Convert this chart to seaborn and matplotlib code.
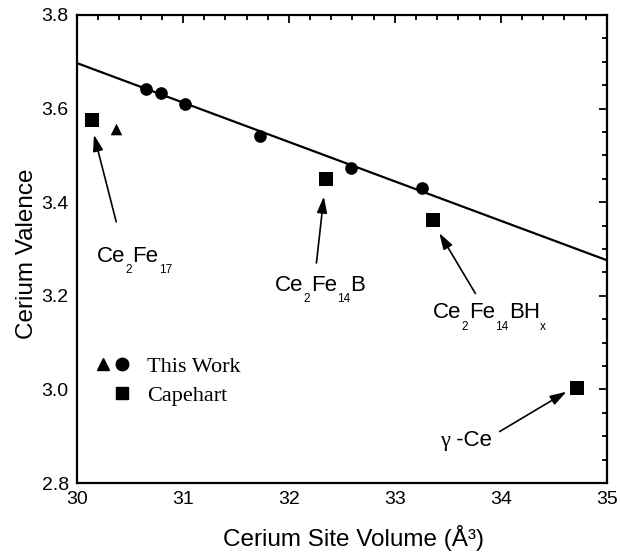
import matplotlib
matplotlib.use("Agg")
import matplotlib.pyplot as plt
import seaborn as sns
from matplotlib.lines import Line2D
from matplotlib.legend_handler import HandlerTuple
from matplotlib.ticker import MultipleLocator, FormatStrFormatter
from matplotlib.textpath import TextToPath
from matplotlib.font_manager import FontProperties

# ---- data ----
circle_x = [30.65, 30.79, 31.02, 31.73, 32.59, 33.26]
circle_y = [3.642, 3.633, 3.609, 3.541, 3.474, 3.431]
triangle_x = [30.37]
triangle_y = [3.556]
capehart_x = [30.14, 32.35, 33.36, 34.72]
capehart_y = [3.576, 3.449, 3.362, 3.004]
fit_x = [30.0, 35.0]
fit_y = [3.697, 3.276]

# compound labels: (text, kind) pieces; kind 1 = subscript, 2 = greek
compound_labels = [
    [("Ce", 0), ("2", 1), ("Fe", 0), ("17", 1)],
    [("Ce", 0), ("2", 1), ("Fe", 0), ("14", 1), ("B", 0)],
    [("Ce", 0), ("2", 1), ("Fe", 0), ("14", 1), ("BH", 0), ("x", 1)],
    [("γ", 2), (" -Ce", 0)],
]
label_x = [30.186, 31.868, 33.361, 33.425]
label_y = [3.273, 3.211, 3.152, 2.878]
arrow_tail_x = [30.37, 32.26, 33.76, 33.99]
arrow_tail_y = [3.358, 3.27, 3.205, 2.910]
arrow_head_x = [30.16, 32.33, 33.42, 34.62]
arrow_head_y = [3.544, 3.412, 3.334, 2.995]

x_ticks = [30, 31, 32, 33, 34, 35]
y_ticks = [2.8, 3.0, 3.2, 3.4, 3.6, 3.8]

sns.set_style("white")
plt.rcParams["font.family"] = ["Liberation Sans", "DejaVu Sans"]
for k in ["text.color", "axes.labelcolor", "xtick.color", "ytick.color",
          "axes.edgecolor"]:
    plt.rcParams[k] = "black"

fig = plt.figure(figsize=(6.21, 5.52), dpi=100)
ax = fig.add_axes([0.124, 0.125, 0.853, 0.848])

sns.lineplot(x=fit_x, y=fit_y, color="black", lw=1.6, ax=ax)
sns.scatterplot(x=circle_x, y=circle_y, marker="o", s=83, color="black",
                linewidth=0, ax=ax, zorder=3)
sns.scatterplot(x=triangle_x, y=triangle_y, marker="^", s=70, color="black",
                linewidth=0, ax=ax, zorder=3)
sns.scatterplot(x=capehart_x, y=capehart_y, marker="s", s=88, color="black",
                linewidth=0, ax=ax, zorder=3)

ttp = TextToPath()
MAIN_SIZE, SUB_SIZE, SUB_DROP, GAP = 16.0, 8.5, 8.5, 0.3


def draw_formula(x, y, pieces):
    cursor = 0.0
    for txt, kind in pieces:
        if kind == 1:
            fam, size, dy = "Liberation Sans", SUB_SIZE, -SUB_DROP
        elif kind == 2:
            fam, size, dy = "Liberation Serif", MAIN_SIZE, 0
        else:
            fam, size, dy = "Liberation Sans", MAIN_SIZE, 0
        prop = FontProperties(family=fam, size=size)
        w, h, d = ttp.get_text_width_height_descent(txt, prop, ismath=False)
        ax.annotate(txt, xy=(x, y), xytext=(cursor, dy),
                    textcoords="offset points", ha="left", va="baseline",
                    fontproperties=prop, color="black")
        cursor += w + GAP


for pieces, lx, ly, tx, ty, hx, hy in zip(compound_labels, label_x, label_y,
                                          arrow_tail_x, arrow_tail_y,
                                          arrow_head_x, arrow_head_y):
    draw_formula(lx, ly, pieces)
    ax.annotate("", xy=(hx, hy), xytext=(tx, ty),
                arrowprops=dict(arrowstyle="-|>,head_length=0.7,head_width=0.22",
                                color="black", lw=1.2, shrinkA=0, shrinkB=0,
                                mutation_scale=14))

ax.set_xlim(30, 35)
ax.set_ylim(2.8, 3.8)
ax.set_xticks(x_ticks)
ax.set_yticks(y_ticks)
ax.xaxis.set_minor_locator(MultipleLocator(0.2))
ax.yaxis.set_minor_locator(MultipleLocator(0.05))
ax.yaxis.set_major_formatter(FormatStrFormatter("%.1f"))
ax.tick_params(which="both", direction="in", top=True, right=True,
               labelsize=14, width=1.3, colors="black")
ax.tick_params(which="major", length=6, pad=6)
ax.tick_params(which="minor", length=3.5)
for s in ax.spines.values():
    s.set_linewidth(1.6)
    s.set_color("black")

ax.set_xlabel("Cerium Site Volume (Å³)", fontsize=17.5, color="black")
ax.set_ylabel("Cerium Valence", fontsize=17.5, color="black")
ax.xaxis.set_label_coords(0.522, -0.09)
ax.yaxis.set_label_coords(-0.074, 0.489)

h_tri = Line2D([], [], marker="^", color="black", linestyle="none", markersize=8.5)
h_cir = Line2D([], [], marker="o", color="black", linestyle="none", markersize=9)
h_sq = Line2D([], [], marker="s", color="black", linestyle="none", markersize=9)
h_blank = Line2D([], [], linestyle="none", marker=None)
leg = ax.legend([(h_tri, h_cir), (h_blank, h_sq)], ["This Work", "Capehart"],
                handler_map={tuple: HandlerTuple(ndivide=None, pad=0.2)},
                loc="center left", bbox_to_anchor=(0.035, 0.218),
                frameon=False, prop={"family": "Liberation Serif", "size": 16},
                handlelength=1.5, handletextpad=0.8, labelspacing=0.4,
                borderpad=0, borderaxespad=0)
for t in leg.get_texts():
    t.set_color("black")

fig.savefig("out.png", dpi=100)
